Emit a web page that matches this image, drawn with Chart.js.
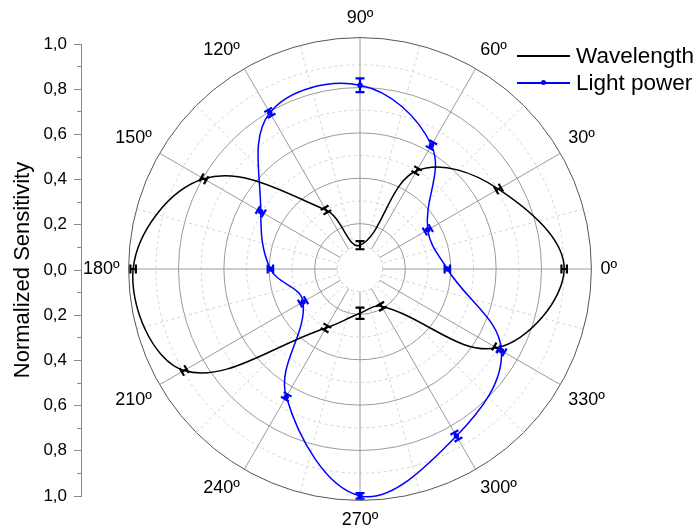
<!DOCTYPE html>
<html>
<head>
<meta charset="utf-8">
<script src="https://cdn.jsdelivr.net/npm/chart.js@4.4.1/dist/chart.umd.min.js"></script>
<style>
  html, body { margin: 0; padding: 0; background: #fff; overflow: hidden; }
  #wrap { position: relative; width: 699px; height: 528px; overflow: hidden; }
  #polar, #axis { position: absolute; left: 0; top: 0; }
  #legend { position: absolute; left: 517px; top: 42px; font-family: "Liberation Sans", Arial, sans-serif; font-size: 22.5px; color: #000; }
  .row { display: flex; align-items: center; height: 27.6px; white-space: nowrap; }
  .swatch { position: relative; width: 53px; height: 0; border-top: 2px solid; margin-right: 6px; }
  .dot { position: absolute; left: 24px; top: -4.5px; width: 5px; height: 5px; border-radius: 50%; }
</style>
</head>
<body>
<div id="wrap">
  <canvas id="polar" width="699" height="532"></canvas>
  <canvas id="axis" width="340" height="528"></canvas>
  <div id="legend"></div>
</div>
<script>
Chart.defaults.font.family = '"Liberation Sans", Arial, sans-serif';
Chart.defaults.color = '#000';

// measured directions (degrees) and normalized sensitivities
const angles = [0, 30, 60, 90, 120, 150, 180, 210, 240, 270, 300, 330];
const wavelength = [0.90, 0.705, 0.50, 0.105, 0.30, 0.795, 1.0, 0.895, 0.30, 0.195, 0.19, 0.695];
const wavelengthErr = [0.012, 0.012, 0.012, 0.018, 0.012, 0.012, 0.012, 0.012, 0.012, 0.025, 0.012, 0.012];
const lightPower = [0.385, 0.345, 0.63, 0.81, 0.795, 0.505, 0.395, 0.29, 0.65, 1.0, 0.85, 0.72];
const lightPowerErr = [0.012, 0.015, 0.015, 0.03, 0.015, 0.015, 0.012, 0.015, 0.012, 0.012, 0.018, 0.015];
const axisTicks = [-1, -0.8, -0.6, -0.4, -0.2, 0, 0.2, 0.4, 0.6, 0.8, 1];

// radar walks clockwise from startAngle, so spokes go 0º, 345º, 330º ...
const spokes = [];
for (let i = 0; i < 24; i++) spokes.push((360 - i * 15) % 360);
const spokeLabels = spokes.map(a => a % 30 === 0 ? a + 'º' : '');
const toSpokes = vals => spokes.map(a => {
  const k = angles.indexOf(a);
  return k < 0 ? null : vals[k];
});

const ringColor = v => {
  const t = Math.round(v * 100);
  if (t > 100) return '#555';
  return (t / 10) % 2 ? '#d4d4d4' : '#9a9a9a';
};

// blank the middle and redraw the innermost dashed ring
const centreHole = {
  id: 'centreHole',
  beforeDatasetsDraw(chart) {
    const s = chart.scales.r, ctx = chart.ctx;
    const rad = s.getDistanceFromCenterForValue(0.1);
    ctx.save();
    ctx.beginPath();
    ctx.arc(s.xCenter, s.yCenter, rad, 0, Math.PI * 2);
    ctx.fillStyle = '#fff';
    ctx.fill();
    ctx.setLineDash([3, 3]);
    ctx.strokeStyle = '#d4d4d4';
    ctx.lineWidth = 1;
    ctx.stroke();
    ctx.restore();
  }
};

// radial error bars with caps
const errorBars = {
  id: 'errorBars',
  afterDatasetsDraw(chart) {
    const s = chart.scales.r, ctx = chart.ctx;
    chart.data.datasets.forEach(ds => {
      ds.data.forEach((v, i) => {
        if (v === null) return;
        const e = ds.err[i];
        const a = s.getPointPositionForValue(i, v - e);
        const b = s.getPointPositionForValue(i, v + e);
        const ang = s.getIndexAngle(i) - Math.PI / 2;
        const px = -Math.sin(ang) * 4.5, py = Math.cos(ang) * 4.5;
        ctx.save();
        ctx.strokeStyle = ds.borderColor;
        ctx.lineWidth = 2.2;
        ctx.beginPath();
        ctx.moveTo(a.x, a.y);
        ctx.lineTo(b.x, b.y);
        [a, b].forEach(p => {
          ctx.moveTo(p.x - px, p.y - py);
          ctx.lineTo(p.x + px, p.y + py);
        });
        ctx.stroke();
        ctx.restore();
      });
    });
  }
};

const polar = new Chart(document.getElementById('polar'), {
  type: 'radar',
  data: {
    labels: spokeLabels,
    datasets: [{
      label: 'Wavelength',
      data: toSpokes(wavelength),
      err: toSpokes(wavelengthErr),
      borderColor: '#000000',
      backgroundColor: '#000000',
      borderWidth: 1.5,
      pointRadius: 0,
      fill: false,
      tension: 0.38,
      spanGaps: true
    }, {
      label: 'Light power',
      data: toSpokes(lightPower),
      err: toSpokes(lightPowerErr),
      borderColor: '#0000ff',
      backgroundColor: '#0000ff',
      borderWidth: 1.5,
      pointRadius: 2,
      fill: false,
      tension: 0.38,
      spanGaps: true
    }]
  },
  options: {
    responsive: false,
    animation: false,
    layout: { padding: { left: 21, right: 0, top: 8, bottom: 0 } },
    plugins: { legend: { display: false }, tooltip: { enabled: false } },
    scales: {
      r: {
        min: 0,
        max: 1.02,
        startAngle: 90,
        ticks: { display: false, stepSize: 0.1 },
        grid: { circular: true, lineWidth: 1, color: c => ringColor(c.tick.value) },
        border: { dash: c => (Math.round(c.tick.value * 100) <= 100 && Math.round(c.tick.value * 10) % 2) ? [3, 3] : [] },
        angleLines: {
          lineWidth: 1,
          color: c => c.index % 2 ? '#d4d4d4' : '#9a9a9a',
          borderDash: c => c.index % 2 ? [3, 3] : []
        },
        pointLabels: { padding: 9, color: '#000', font: { size: 18 } }
      }
    }
  },
  plugins: [centreHole, errorBars]
});

// left value axis, reading outward from the centre both ways
new Chart(document.getElementById('axis'), {
  type: 'scatter',
  data: { datasets: [] },
  options: {
    responsive: false,
    animation: false,
    layout: { padding: { left: 10, top: 44, bottom: 32, right: 0 } },
    plugins: { legend: { display: false }, tooltip: { enabled: false } },
    scales: {
      x: { display: false },
      y: {
        position: 'left',
        weight: 1,
        min: -1,
        max: 1,
        afterBuildTicks: s => { s.ticks = axisTicks.map(v => ({ value: v })); },
        ticks: {
          padding: 7,
          color: '#000',
          font: { size: 17 },
          callback: v => Math.abs(v).toFixed(1).replace('.', ',')
        },
        grid: { drawOnChartArea: false, tickLength: 3, color: '#888' },
        border: { display: false },
        title: {
          display: true,
          text: 'Normalized Sensitivity',
          color: '#000',
          font: { size: 22 },
          padding: { top: 0, bottom: 0 }
        }
      },
      yMinor: {
        position: 'left',
        weight: 0,
        min: -1,
        max: 1,
        ticks: { display: false, stepSize: 0.1 },
        grid: { drawOnChartArea: false, tickLength: 4, color: '#888' },
        border: { display: true, color: '#888' }
      }
    }
  }
});

// legend built from the polar datasets
const legend = document.getElementById('legend');
polar.data.datasets.forEach(ds => {
  const row = document.createElement('div');
  row.className = 'row';
  const sw = document.createElement('span');
  sw.className = 'swatch';
  sw.style.borderColor = ds.borderColor;
  if (ds.pointRadius > 0) {
    const dot = document.createElement('span');
    dot.className = 'dot';
    dot.style.background = ds.borderColor;
    sw.appendChild(dot);
  }
  const txt = document.createElement('span');
  txt.textContent = ds.label;
  row.appendChild(sw);
  row.appendChild(txt);
  legend.appendChild(row);
});
</script>
</body>
</html>
